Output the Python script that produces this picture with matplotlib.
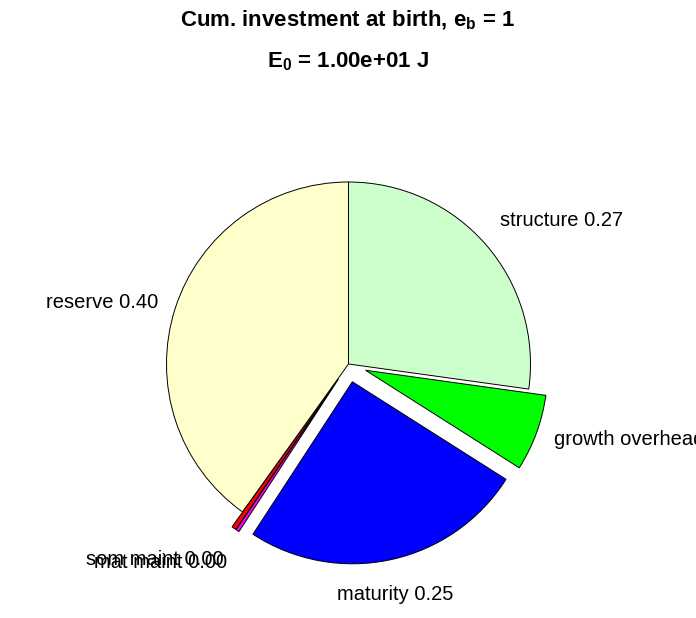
"Pie chart of cumulative investment at birth"

import matplotlib
matplotlib.use("Agg")
import matplotlib.pyplot as plt
import numpy as np

plt.rcParams["font.family"] = "Liberation Sans"
plt.rcParams["mathtext.fontset"] = "custom"
plt.rcParams["mathtext.rm"] = "Liberation Sans"
plt.rcParams["mathtext.bf"] = "Liberation Sans:bold"

#####
# Data
#####

names = ["structure", "growth overhead", "maturity", "mat maint", "som maint", "reserve"]
fractions = [0.272, 0.068, 0.252, 0.003, 0.004, 0.401]
exploded = [0, 1, 1, 1, 1, 0]
colors = ["#ccffcc", "#00ff00", "#0000ff", "#ff00ff", "#ff0000", "#ffffcc"]

title1 = r"Cum. investment at birth, $\mathbf{e}_\mathbf{b}$ = 1"
title2 = r"$\mathbf{E}_\mathbf{0}$ = 1.00e+01 J"

#####
# Plot
#####

W, H = 696, 618
fig = plt.figure(figsize=(W / 100, H / 100), dpi=100)
ax = fig.add_axes([0, 0, 1, 1])

explode = [0.1 * e for e in exploded]
wedges, _ = ax.pie(
    fractions,
    colors=colors,
    explode=explode,
    startangle=90,
    counterclock=False,
    wedgeprops=dict(edgecolor="black", linewidth=0.7),
)

# Labels placed like the original: just outside each wedge
for wedge, name, frac, ex in zip(wedges, names, fractions, explode):
    mid = np.deg2rad((wedge.theta1 + wedge.theta2) / 2)
    c, s = np.cos(mid), np.sin(mid)
    x = ex * c + 1.1 * c
    y = ex * s + 1.1 * s
    ha = "left" if c > 0.3 else ("right" if c < -0.3 else "center")
    if abs(s) < 0.5:
        va = "center"
    elif s > 0:
        va, y = "bottom", y + 0.015
    else:
        va, y = "top", y - 0.04
    ax.text(x, y, f"{name} {frac:.2f}", ha=ha, va=va, fontsize=14.5)

# Pixel scale: centre at (348.5, 364) from top-left, radius 182 px
cx, cy, r = 348.5, 364, 182
ax.set_xlim(-cx / r, (W - cx) / r)
ax.set_ylim(-(H - cy) / r, cy / r)
ax.set_aspect("auto")
ax.axis("off")

fig.text(0.5, 1 - 20 / H, title1, ha="center", va="center", fontsize=16, fontweight="bold")
fig.text(0.5, 1 - 62 / H, title2, ha="center", va="center", fontsize=16, fontweight="bold")

fig.savefig("out.png", dpi=100)
